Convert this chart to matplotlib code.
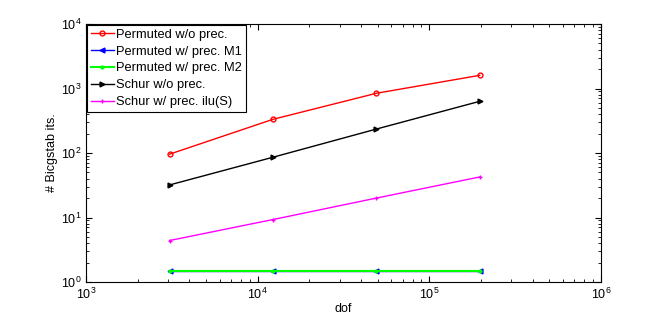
import numpy as np
import matplotlib
matplotlib.use("Agg")
import matplotlib.pyplot as plt

plt.rcParams['font.family'] = ['Liberation Sans', 'DejaVu Sans']

# problem sizes (degrees of freedom)
dof = [3072, 12288, 49152, 196608]

# Bicgstab iteration counts
perm_noprec = [96, 333, 843, 1600]
perm_m1 = [1.5, 1.5, 1.5, 1.5]
perm_m2 = [1.5, 1.5, 1.5, 1.5]
schur_noprec = [32, 86, 235, 633]
schur_ilu = [4.4, 9.3, 20, 42.5]

labels = ["Permuted w/o prec.", "Permuted w/ prec. M1", "Permuted w/ prec. M2",
          "Schur w/o prec.", "Schur w/ prec. ilu(S)"]

fig = plt.figure(figsize=(6.64, 3.18), dpi=100)
ax = fig.add_axes([0.1295, 0.1132, 0.7755, 0.8113])

ax.loglog(dof, perm_noprec, "o-", color="red", lw=1, ms=3.5, mfc="none", mew=1, label=labels[0])
ax.loglog(dof, perm_m1, "<-", color="blue", lw=1, ms=3.5, label=labels[1])
ax.loglog(dof, perm_m2, ".-", color="#00ff00", lw=1.5, ms=4, label=labels[2])
ax.loglog(dof, schur_noprec, ">-", color="black", lw=1, ms=3.5, label=labels[3])
ax.loglog(dof, schur_ilu, "+-", color="magenta", lw=1, ms=3.5, label=labels[4])

ax.set_xlim(1e3, 1e6)
ax.set_ylim(1e0, 1e4)
ax.set_xlabel("dof", fontsize=9, labelpad=1)
ax.set_ylabel("# Bicgstab its.", fontsize=9, labelpad=2)
ax.tick_params(which="both", direction="in", top=True, right=True, labelsize=9)
ax.tick_params(which="major", length=4)
ax.tick_params(which="minor", length=2)
for s in ax.spines.values():
    s.set_linewidth(0.8)

leg = ax.legend(loc="upper left", fontsize=9.3, frameon=True, fancybox=False,
                edgecolor="black", framealpha=1, borderaxespad=0.05,
                handlelength=1.8, handletextpad=0.2, labelspacing=0.38,
                borderpad=0.3)
leg.get_frame().set_linewidth(0.8)

fig.savefig("out.png", dpi=100)
